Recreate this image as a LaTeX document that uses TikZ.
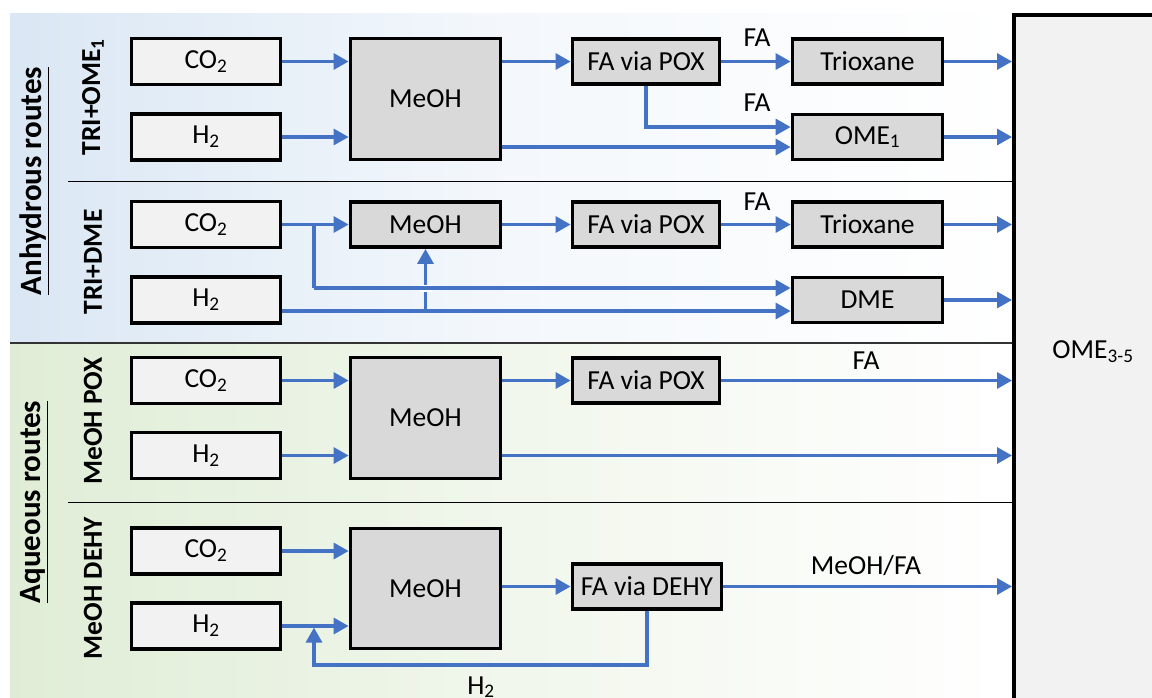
\documentclass[tikz,border=0pt]{standalone}
\usepackage{fontspec}
\setmainfont{Carlito}
\usetikzlibrary{arrows.meta,calc}
\definecolor{arrblue}{HTML}{4472C4}
\definecolor{bgblue}{HTML}{DAE7F4}
\definecolor{bggreen}{HTML}{E0EDD6}
\definecolor{lightfill}{HTML}{F2F2F2}
\definecolor{darkfill}{HTML}{D9D9D9}
\begin{document}
\begin{tikzpicture}[x=1pt,y=-1pt,
  inbox/.style={draw=black,line width=3.8pt,fill=lightfill,minimum width=149pt,minimum height=46pt,inner sep=0pt,font=\fontsize{27.5}{32}\selectfont},
  procbox/.style={draw=black,line width=3.8pt,fill=darkfill,minimum width=147pt,minimum height=45pt,inner sep=0pt,font=\fontsize{27.5}{32}\selectfont},
  bigbox/.style={procbox,minimum width=150pt,minimum height=121pt},
  arr/.style={draw=arrblue,line width=3.2pt,-{Triangle[length=15pt,width=16pt]}},
  ln/.style={draw=arrblue,line width=3.2pt},
  flab/.style={font=\fontsize{27.5}{32}\selectfont,inner sep=0pt},
  routelab/.style={rotate=90,font=\bfseries\fontsize{27.5}{32}\selectfont,inner sep=0pt},
  grouplab/.style={rotate=90,font=\bfseries\fontsize{31}{36}\selectfont,inner sep=0pt},
  sep/.style={draw=black,line width=1pt}]
\useasboundingbox (0,0) rectangle (1152,697);
\begin{scope}
\clip (0,0) rectangle (1152,697);
% backgrounds
\shade[left color=bgblue,right color=white,middle color=bgblue!30] (10,13) rectangle (1012,343);
\shade[left color=bggreen,right color=white,middle color=bggreen!45] (10,343) rectangle (1012,697);
% separators
\draw[sep] (68,181) -- (1012,181);
\draw[draw=black!80,line width=1.5pt] (10,343) -- (1012,343);
\draw[sep] (68,502) -- (1012,502);
% output box
\node[draw=black,line width=3.8pt,fill=lightfill,minimum width=160pt,minimum height=720pt,inner sep=0pt,anchor=north west] (ome) at (1012,13) {};
\node[flab] (omelab) at (1093,352) {OME\textsubscript{3-5}};

% group labels
\node[grouplab] (anh) at (34,181) {\underline{Anhydrous routes}};
\node[grouplab] (aq) at (34,502) {\underline{Aqueous routes}};
\node[routelab] (r1) at (93,97) {TRI+OME\textsubscript{1}};
\node[routelab] (r2) at (93,262) {TRI+DME};
\node[routelab] (r3) at (93,421) {MeOH POX};
\node[routelab] (r4) at (93,588) {MeOH DEHY};

% Row 1
\node[inbox] (co1) at (206,61.5) {CO\textsubscript{2}};
\node[inbox] (h1) at (206,137) {H\textsubscript{2}};
\node[bigbox] (me1) at (425.5,99) {MeOH};
\node[procbox] (fa1) at (646,61.5) {FA via POX};
\node[procbox,minimum width=150pt] (tri1) at (867.5,61.5) {Trioxane};
\node[procbox,minimum width=150pt] (ome1) at (867.5,137) {OME\textsubscript{1}};
% Row 2
\node[inbox] (co2) at (206,224.5) {CO\textsubscript{2}};
\node[inbox] (h2) at (206,300) {H\textsubscript{2}};
\node[procbox,minimum width=150pt] (me2) at (425.5,224.5) {MeOH};
\node[procbox] (fa2) at (646,224.5) {FA via POX};
\node[procbox,minimum width=150pt] (tri2) at (867.5,224.5) {Trioxane};
\node[procbox,minimum width=150pt] (dme) at (867.5,300) {DME};
% Row 3
\node[inbox] (co3) at (206,380.5) {CO\textsubscript{2}};
\node[inbox] (h3) at (206,455.5) {H\textsubscript{2}};
\node[bigbox] (me3) at (425.5,418) {MeOH};
\node[procbox] (fa3) at (646,380.5) {FA via POX};
% Row 4
\node[inbox] (co4) at (206,551) {CO\textsubscript{2}};
\node[inbox] (h4) at (206,626) {H\textsubscript{2}};
\node[bigbox,minimum height=120pt] (me4) at (425.5,588.5) {MeOH};
\node[procbox,minimum width=149pt] (fa4) at (647,586.5) {FA via DEHY};

% helper coordinates
\coordinate (y147) at (0,147);
\coordinate (y127) at (0,127);
\coordinate (y288) at (0,288);
\coordinate (y311) at (0,311);
\coordinate (y665) at (0,665);
\coordinate (x314) at (314,0);

% Row 1 connectors
\draw[arr] (co1) -- (co1 -| me1.west);
\draw[arr] (h1) -- (h1 -| me1.west);
\draw[arr] (co1 -| me1.east) -- (fa1);
\draw[arr] (fa1) -- (tri1);
\draw[arr] (fa1.south) |- (y127 -| ome1.west);
\draw[arr] (y147 -| me1.east) -- (y147 -| ome1.west);
\draw[arr] (tri1) -- (tri1 -| ome.west);
\draw[arr] (ome1) -- (ome1 -| ome.west);
\node[flab] (fal1) at (757,38) {FA};
\node[flab] (fal2) at (757,103) {FA};

% Row 2 connectors
\draw[arr] (co2) -- (me2);
\draw[ln] (co2 -| x314) -- (y288 -| x314);
\draw[arr] (y311 -| h2.east) -- (y311 -| dme.west);
\draw[arr] (y311 -| me2.south) -- (me2.south);
\draw[draw=white,line width=7pt] ($(y288 -| me2.south)+(-6,0)$) -- ($(y288 -| me2.south)+(6,0)$);
\draw[arr] (y288 -| x314) -- (y288 -| dme.west);
\draw[arr] (me2) -- (fa2);
\draw[arr] (fa2) -- (tri2);
\draw[arr] (tri2) -- (tri2 -| ome.west);
\draw[arr] (dme) -- (dme -| ome.west);
\node[flab] (fal3) at (757,202) {FA};

% Row 3 connectors
\draw[arr] (co3) -- (co3 -| me3.west);
\draw[arr] (h3) -- (h3 -| me3.west);
\draw[arr] (co3 -| me3.east) -- (fa3);
\draw[arr] (fa3) -- (fa3 -| ome.west);
\draw[arr] (h3 -| me3.east) -- (h3 -| ome.west);
\node[flab] (fal4) at (866,361) {FA};

% Row 4 connectors
\draw[arr] (co4) -- (co4 -| me4.west);
\draw[arr] (h4) -- (h4 -| me4.west);
\draw[arr] (fa4 -| me4.east) -- (fa4);
\draw[arr] (fa4) -- (fa4 -| ome.west);
\draw[arr] (fa4.south) |- (y665 -| x314) -- ([yshift=-1.6pt]h4 -| x314);
\node[flab] (fal5) at (866,566) {MeOH/FA};
\node[flab,anchor=base] (h2lab) at (481,694) {H\textsubscript{2}};
\end{scope}
\end{tikzpicture}
\end{document}
